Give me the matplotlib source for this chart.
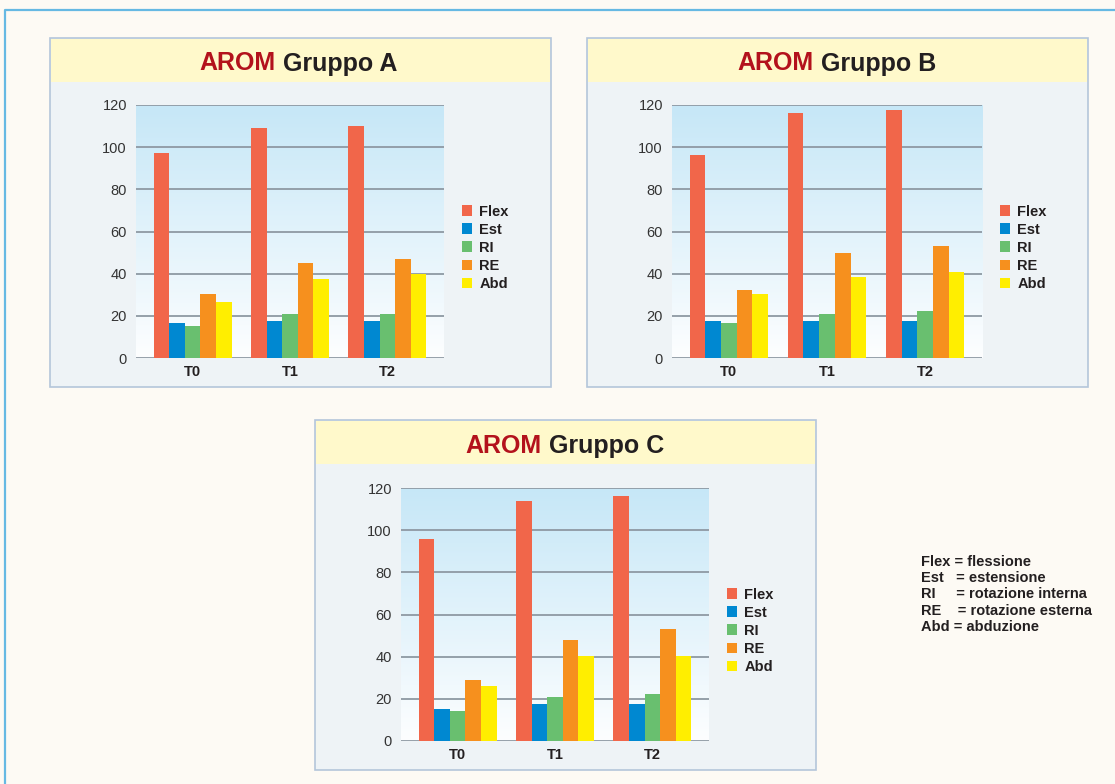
import matplotlib
matplotlib.use("Agg")
import matplotlib.pyplot as plt
from matplotlib.patches import Rectangle
from matplotlib.lines import Line2D
import numpy as np

plt.rcParams['font.family'] = ['Liberation Sans', 'DejaVu Sans']

W, H = 1115, 784

categories = ['T0', 'T1', 'T2']
series = ['Flex', 'Est', 'RI', 'RE', 'Abd']
colors = ['#f1664a', '#0088d1', '#69bf6f', '#f6901e', '#ffee00']

gruppo_a = {
    'Flex': [97, 109, 110],
    'Est': [16.5, 17.4, 17.4],
    'RI': [15.2, 20.7, 20.7],
    'RE': [30.2, 44.9, 46.8],
    'Abd': [26.4, 37.3, 39.8],
}
gruppo_b = {
    'Flex': [96.1, 116.2, 117.6],
    'Est': [17.4, 17.4, 17.4],
    'RI': [16.5, 20.7, 22.1],
    'RE': [32.1, 49.7, 53.0],
    'Abd': [30.2, 38.3, 40.8],
}
gruppo_c = {
    'Flex': [96.0, 113.7, 116.4],
    'Est': [15.3, 17.7, 17.7],
    'RI': [14.4, 20.7, 22.4],
    'RE': [29.1, 47.8, 53.0],
    'Abd': [25.9, 40.2, 40.5],
}

yticks = [0, 20, 40, 60, 80, 100, 120]

note_lines = [
    'Flex = flessione',
    'Est   = estensione',
    'RI     = rotazione interna',
    'RE    = rotazione esterna',
    'Abd = abduzione',
]


def fx(x):
    return x / W


def fy(y):
    return 1 - y / H


def rect_px(fig, left, top, right, bottom, **kw):
    r = Rectangle((fx(left), fy(bottom)), fx(right) - fx(left), fy(top) - fy(bottom),
                  transform=fig.transFigure, zorder=-5, **kw)
    fig.add_artist(r)


fig = plt.figure(figsize=(W / 100, H / 100), dpi=100)
fig.patch.set_facecolor('#fdfaf4')

# outer frame
fig.add_artist(Line2D([fx(5), fx(5), fx(1115)], [fy(784), fy(10), fy(10)],
                      transform=fig.transFigure, color='#66b9e3', lw=1.6, zorder=-5))

# gradient for plot background
grad = np.linspace(0, 1, 256).reshape(-1, 1)
top_c = np.array([0xc6, 0xe7, 0xf7]) / 255
bot_c = np.array([0xfd, 0xfe, 0xff]) / 255
grad_img = top_c * (1 - grad[..., None]) + bot_c * grad[..., None]
grad_img = grad_img.reshape(256, 1, 3)


def panel(left, top, right, bottom, band_bottom, ax_box, data, letter, split_x, base_y):
    rect_px(fig, left, top, right, bottom, facecolor='#eef3f6', edgecolor='#b4c6da', lw=1.2)
    rect_px(fig, left + 1, top + 1, right - 1, band_bottom, facecolor='#fff9cb', edgecolor='none')
    fig.text(fx(split_x), fy(base_y), 'AROM', color='#b3121c', fontsize=18,
             fontweight='bold', ha='right', va='baseline')
    fig.text(fx(split_x + 8), fy(base_y), 'Gruppo ' + letter, color='#231f20', fontsize=18,
             fontweight='bold', ha='left', va='baseline')

    al, at, ar, ab = ax_box
    ax = fig.add_axes([fx(al), fy(ab), fx(ar) - fx(al), fy(at) - fy(ab)])
    ax.imshow(grad_img, aspect='auto', extent=[0, 1, 0, 1], transform=ax.transAxes, zorder=0)
    x = np.arange(len(categories))
    width = 0.16
    for i, (name, col) in enumerate(zip(series, colors)):
        ax.bar(x + (i - 2) * width, data[name], width, color=col, label=name, zorder=3)
    for t in yticks:
        ax.axhline(t, color='#8e99a3', lw=1.3, zorder=1)
    ax.set_xlim(-0.58, 2.58)
    ax.set_ylim(0, 120)
    ax.set_yticks(yticks)
    ax.set_xticks(x)
    ax.set_xticklabels(categories, fontweight='bold', fontsize=10.5, color='#231f20')
    ax.tick_params(axis='y', length=0, pad=6.5, labelsize=10.5, labelcolor='#333333')
    ax.tick_params(axis='x', length=0, pad=5)
    for s in ax.spines.values():
        s.set_visible(False)
    ax.set_facecolor('none')
    leg = ax.legend(loc='center left', bbox_to_anchor=(1.058, 0.436), frameon=False,
                    borderpad=0, borderaxespad=0, handlelength=0.7, handleheight=0.7,
                    handletextpad=0.5, labelspacing=0.28,
                    prop={'weight': 'bold', 'size': 10.5})
    for t in leg.get_texts():
        t.set_color('#231f20')
    return ax


panel(50, 38, 551, 387, 82, (136, 105, 444, 358), gruppo_a, 'A', 275, 70.5)
panel(587, 38, 1088, 387, 82, (672, 105, 982, 358), gruppo_b, 'B', 813, 70.5)
panel(315, 420, 816, 770, 464, (401, 488, 709, 741), gruppo_c, 'C', 541, 453.3)

for i, line in enumerate(note_lines):
    fig.text(fx(921), fy(565.7 + 16.3 * i), line, fontsize=10.5, fontweight='bold',
             color='#231f20', ha='left', va='baseline')

fig.savefig('out.png', dpi=100, facecolor=fig.get_facecolor())
